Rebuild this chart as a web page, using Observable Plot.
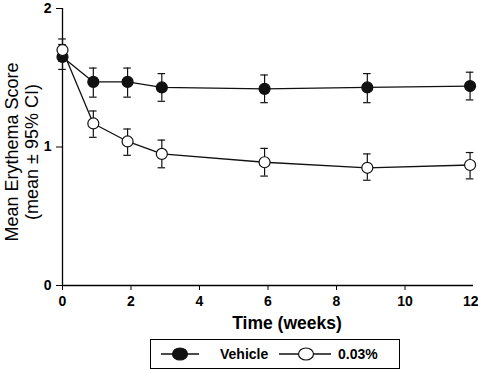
<!DOCTYPE html>
<html><head><meta charset="utf-8">
<script src="https://cdn.jsdelivr.net/npm/d3@7"></script>
<script src="https://cdn.jsdelivr.net/npm/@observablehq/plot@0.6"></script>
<style>
body{margin:0;background:#fff;font-family:"Liberation Sans",Arial,sans-serif;}
#wrap{position:relative;width:478px;height:370px;overflow:hidden;}
#legend{position:absolute;left:150px;top:339px;width:248px;height:28px;border:1.3px solid #000;box-sizing:content-box;}
svg{overflow:visible}
</style></head>
<body><div id="wrap"><div id="chart"></div><div id="legend"></div></div>
<script>
const times = [0, 0.9, 1.9, 2.9, 5.9, 8.9, 11.9];
const vehicleMean = [1.65, 1.47, 1.47, 1.43, 1.42, 1.43, 1.44];
const vehicleLo   = [1.56, 1.36, 1.36, 1.33, 1.32, 1.32, 1.34];
const vehicleHi   = [1.74, 1.57, 1.57, 1.53, 1.52, 1.53, 1.54];
const treatMean = [1.70, 1.17, 1.04, 0.95, 0.89, 0.85, 0.87];
const treatLo   = [1.62, 1.07, 0.94, 0.85, 0.79, 0.76, 0.77];
const treatHi   = [1.78, 1.26, 1.13, 1.05, 0.99, 0.95, 0.96];
const seriesNames = ["Vehicle", "0.03%"];
const xTicks = [0, 2, 4, 6, 8, 10, 12];
const yTicks = [0, 1, 2];

const data = [];
times.forEach((t, i) => {
  data.push({series: seriesNames[0], t, m: vehicleMean[i], lo: vehicleLo[i], hi: vehicleHi[i]});
  data.push({series: seriesNames[1], t, m: treatMean[i], lo: treatLo[i], hi: treatHi[i]});
});
const capHalf = 0.11;
const lastTick = xTicks[xTicks.length - 1];

const plot = Plot.plot({
  width: 478, height: 335,
  marginLeft: 62, marginRight: 5, marginTop: 8, marginBottom: 50,
  style: {fontFamily: '"Liberation Sans", Arial, sans-serif', background: "white", overflow: "visible"},
  x: {domain: [0, 12], ticks: xTicks, label: null},
  y: {domain: [0, 2], ticks: yTicks, label: null},
  marks: [
    Plot.axisX({ticks: xTicks.slice(0, -1), tickSize: 5, tickPadding: 6, fontSize: 14, fontWeight: "bold", label: null, tickFormat: d => String(d)}),
    Plot.axisX({ticks: [lastTick], tickSize: 5, tickPadding: 6, fontSize: 14, fontWeight: "bold", label: null, textAnchor: "end", dx: 5, tickFormat: d => String(d)}),
    Plot.axisY({ticks: yTicks, tickSize: 6, tickPadding: 5, fontSize: 14, fontWeight: "bold", label: null, tickFormat: d => String(d)}),
    Plot.ruleX([0], {y1: 0, y2: 2, stroke: "#000", strokeWidth: 1.3}),
    Plot.ruleY([0], {x1: 0, x2: 12, stroke: "#000", strokeWidth: 1.3}),
    Plot.ruleX(data, {x: "t", y1: "lo", y2: "hi", stroke: "#111", strokeWidth: 1.2}),
    Plot.ruleY(data, {y: "lo", x1: d => d.t - capHalf, x2: d => d.t + capHalf, stroke: "#111", strokeWidth: 1.2}),
    Plot.ruleY(data, {y: "hi", x1: d => d.t - capHalf, x2: d => d.t + capHalf, stroke: "#111", strokeWidth: 1.2}),
    Plot.line(data, {x: "t", y: "m", z: "series", stroke: "#111", strokeWidth: 1.3}),
    Plot.dot(data, {x: "t", y: "m", r: 5.5, stroke: "#111", strokeWidth: 1.2,
      fill: d => d.series === seriesNames[0] ? "#111" : "#fff"})
  ]
});
document.getElementById("chart").appendChild(plot);

const svg = d3.select(plot);
svg.append("text").attr("x", 287).attr("y", 329).attr("text-anchor", "middle")
  .attr("font-size", 17.5).attr("font-weight", "bold").attr("fill", "#000").text("Time (weeks)");
const yl = svg.append("text").attr("transform", "translate(18,152) rotate(-90)").attr("text-anchor", "middle")
  .attr("font-size", 18).attr("fill", "#000");
yl.append("tspan").attr("x", 0).attr("dy", 0).text("Mean Erythema Score");
yl.append("tspan").attr("x", 0).attr("dy", 20).text("(mean ± 95% CI)");

// legend
const lg = d3.select("#legend").append("svg").attr("width", 248).attr("height", 28);
const items = [
  {name: seriesNames[0], x0: 10, x1: 48, cx: 29, fill: "#111", tx: 69},
  {name: seriesNames[1], x0: 128, x1: 180, cx: 155, fill: "#fff", tx: 187}
];
items.forEach(it => {
  lg.append("line").attr("x1", it.x0).attr("x2", it.x1).attr("y1", 14).attr("y2", 14).attr("stroke", "#111").attr("stroke-width", 1.3);
  lg.append("ellipse").attr("cx", it.cx).attr("cy", 14).attr("rx", 7.5).attr("ry", 6).attr("fill", it.fill).attr("stroke", "#111").attr("stroke-width", 1.2);
  lg.append("text").attr("x", it.tx).attr("y", 19).attr("font-size", 14).attr("font-weight", "bold").attr("fill", "#000").text(it.name);
});
</script></body></html>
